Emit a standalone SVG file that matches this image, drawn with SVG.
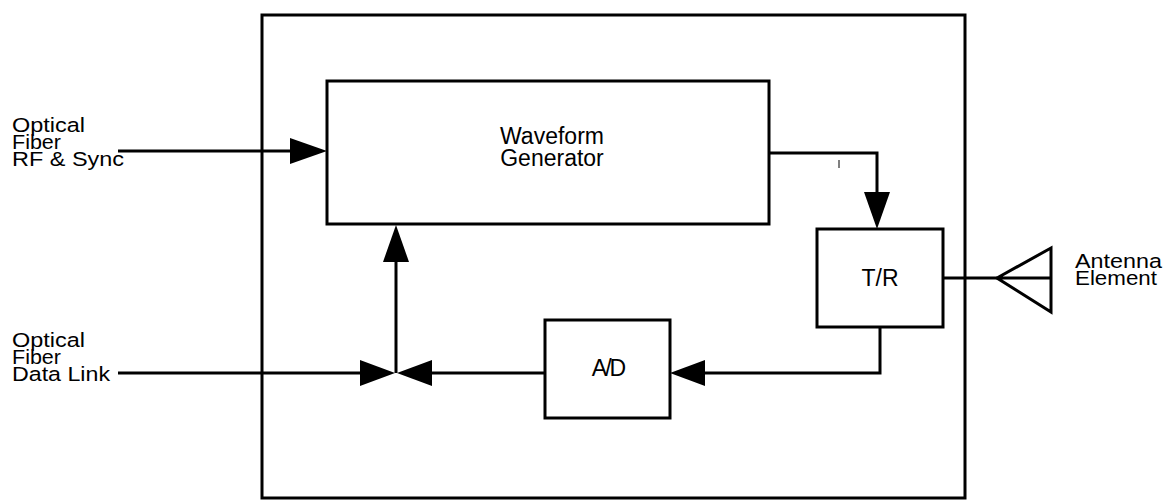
<svg xmlns="http://www.w3.org/2000/svg" width="1165" height="500" viewBox="0 0 1165 500">
<defs>
<style>
.box{fill:#fff;stroke:#000;stroke-width:3}
.ln{fill:none;stroke:#000;stroke-width:3}
.ah{fill:#000;stroke:none}
text{font-family:"Liberation Sans",Arial,sans-serif;fill:#000}
.lbl{font-size:20.5px}
.nt{font-size:23px;text-anchor:middle}
</style>
</defs>
<rect width="1165" height="500" fill="#fff"/>
<g id="enclosure"><rect class="box" x="262" y="15" width="703" height="483" fill="none"/></g>
<g id="waveform">
<rect class="box" x="327" y="81" width="442" height="143"/>
<text class="nt" x="552" y="144">Waveform</text>
<text class="nt" x="552" y="166">Generator</text>
</g>
<g id="tr">
<rect class="box" x="817" y="229" width="126" height="98"/>
<text class="nt" x="880" y="286" font-size="22">T/R</text>
</g>
<g id="ad">
<rect class="box" x="545" y="320" width="125" height="98"/>
<text class="nt" x="608" y="376" font-size="23" letter-spacing="-2">A/D</text>
</g>
<g id="antenna">
<path class="ln" d="M1051 248 L997 278 L1051 312 Z M997 278 H1051" stroke-linejoin="miter"/>
<text class="lbl" x="1075" y="268" textLength="87" lengthAdjust="spacingAndGlyphs">Antenna</text>
<text class="lbl" x="1075" y="285" textLength="82" lengthAdjust="spacingAndGlyphs">Element</text>
</g>
<g id="rf-input">
<text class="lbl" x="12" y="132" textLength="73" lengthAdjust="spacingAndGlyphs">Optical</text>
<text class="lbl" x="12" y="149" textLength="49" lengthAdjust="spacingAndGlyphs">Fiber</text>
<text class="lbl" x="12" y="166" textLength="112" lengthAdjust="spacingAndGlyphs">RF &amp; Sync</text>
</g>
<g id="data-link">
<text class="lbl" x="12" y="347" textLength="73" lengthAdjust="spacingAndGlyphs">Optical</text>
<text class="lbl" x="12" y="364" textLength="49" lengthAdjust="spacingAndGlyphs">Fiber</text>
<text class="lbl" x="12" y="381" textLength="98" lengthAdjust="spacingAndGlyphs">Data Link</text>
</g>
<g id="connectors">
<line class="ln" x1="118" y1="151" x2="295" y2="151"/>
<polygon class="ah" points="327,151 290,138 290,164"/>
<polyline class="ln" points="769,153 877,153 877,195"/>
<polygon class="ah" points="877,229 864,192 890,192"/>
<line x1="839" y1="160" x2="839" y2="168" stroke="#000" stroke-width="1"/>
<line class="ln" x1="943" y1="278" x2="997" y2="278"/>
<polyline class="ln" points="880,327 880,373 700,373"/>
<polygon class="ah" points="670,373 705,360 705,386"/>
<line class="ln" x1="545" y1="373" x2="428" y2="373"/>
<polygon class="ah" points="397,373 432,360 432,386"/>
<line class="ln" x1="118" y1="373" x2="364" y2="373"/>
<polygon class="ah" points="395,373 360,360 360,386"/>
<line class="ln" x1="396" y1="373" x2="396" y2="258"/>
<polygon class="ah" points="396,225 383,262 409,262"/>
</g>
</svg>
